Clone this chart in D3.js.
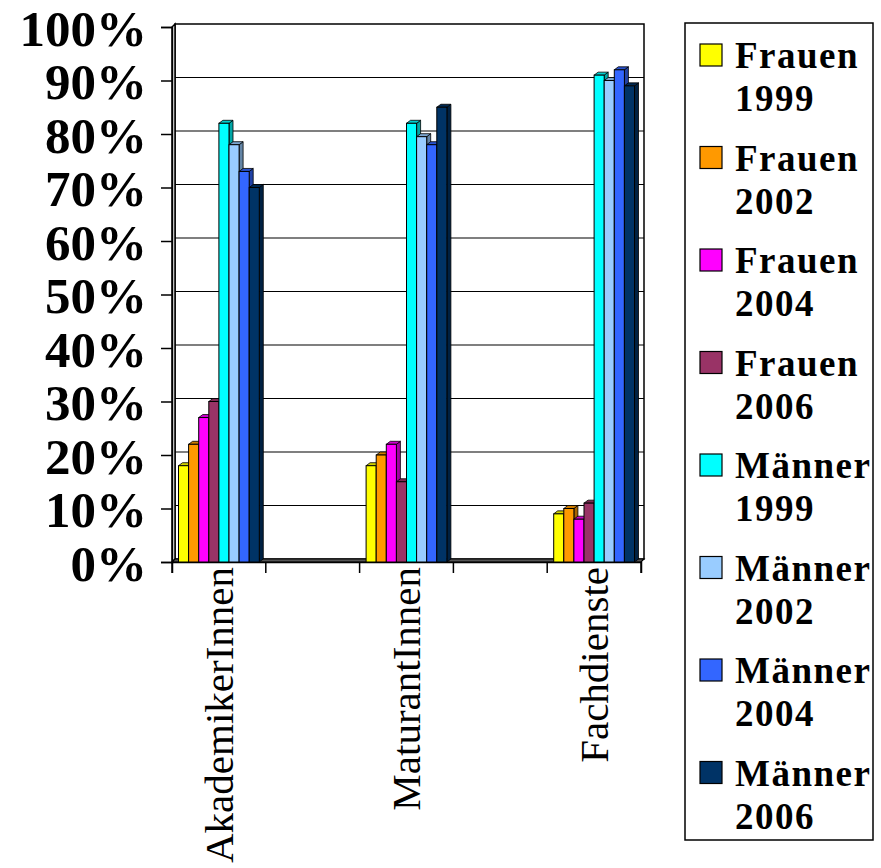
<!DOCTYPE html>
<html>
<head>
<meta charset="utf-8">
<script src="https://cdn.jsdelivr.net/npm/d3@7"></script>
<style>
  html, body { margin: 0; padding: 0; background: #fff; }
  svg { display: block; }
</style>
</head>
<body>
<div id="chart"></div>
<script>
// ---- Data ----
const categories = ["AkademikerInnen", "", "MaturantInnen", "", "Fachdienste"];
const seriesNames = ["Frauen 1999", "Frauen 2002", "Frauen 2004", "Frauen 2006",
                     "Männer 1999", "Männer 2002", "Männer 2004", "Männer 2006"];
const frauen1999 = [18, null, 18, null, 9];
const frauen2002 = [22, null, 20, null, 10];
const frauen2004 = [27, null, 22, null, 8];
const frauen2006 = [30, null, 15, null, 11];
const maenner1999 = [82, null, 82, null, 91];
const maenner2002 = [78, null, 79.5, null, 90];
const maenner2004 = [73, null, 78, null, 92];
const maenner2006 = [70, null, 85, null, 89];
const seriesColors = ["#FFFF00", "#FF9900", "#FF00FF", "#993366",
                      "#00FFFF", "#99CCFF", "#3366FF", "#003366"];
const yTicks = [0, 10, 20, 30, 40, 50, 60, 70, 80, 90, 100];

const seriesValues = [frauen1999, frauen2002, frauen2004, frauen2006,
                      maenner1999, maenner2002, maenner2004, maenner2006];

// ---- Layout ----
const W = 881, H = 868;
const mLeft = 172, mRight = 641, mTop = 27, mBottom = 562;
const depthX = 3, depthY = -3;   // back wall offset
const barDX = 4, barDY = -3;     // bar 3D depth

const svg = d3.select("#chart").append("svg").attr("width", W).attr("height", H);

const x0 = d3.scaleBand().domain(d3.range(categories.length)).range([mLeft, mRight]).paddingInner(0).paddingOuter(0);
const bw = x0.bandwidth();
const x1 = d3.scaleBand().domain(d3.range(seriesNames.length)).range([6.5, bw - 6.5]).padding(0);
const y = d3.scaleLinear().domain([0, 100]).range([mBottom, mTop]);

const serif = "'Liberation Serif', 'Times New Roman', serif";

// back wall
const g = svg.append("g");
g.append("rect")
  .attr("x", mLeft + depthX).attr("y", y(100) + depthY)
  .attr("width", mRight - mLeft).attr("height", y(0) - y(100))
  .attr("fill", "#fff").attr("stroke", "#000").attr("stroke-width", 1.5);

// gridlines on the back wall
g.selectAll("line.grid").data(yTicks.filter(d => d > 0 && d < 100)).enter().append("line")
  .attr("x1", mLeft + depthX).attr("x2", mRight + depthX)
  .attr("y1", d => y(d) + depthY).attr("y2", d => y(d) + depthY)
  .attr("stroke", "#000").attr("stroke-width", 1.2);

// left wall (thin side)
g.append("path")
  .attr("d", `M${mLeft},${y(0)} L${mLeft},${y(100)} L${mLeft + depthX},${y(100) + depthY} L${mLeft + depthX},${y(0) + depthY} Z`)
  .attr("fill", "#fff").attr("stroke", "#000").attr("stroke-width", 1.5);

// floor
g.append("path")
  .attr("d", `M${mLeft},${y(0)} L${mRight},${y(0)} L${mRight + depthX},${y(0) + depthY} L${mLeft + depthX},${y(0) + depthY} Z`)
  .attr("fill", "#555").attr("stroke", "#000").attr("stroke-width", 1.2);

// y axis (front)
const yAxis = d3.axisLeft(y).tickValues(yTicks).tickSize(11).tickFormat(d => d + "%");
const yg = svg.append("g").attr("transform", `translate(${mLeft},0)`).call(yAxis);
yg.select(".domain").attr("stroke", "#000").attr("stroke-width", 1.5);
yg.selectAll(".tick line").attr("stroke", "#000").attr("stroke-width", 1.5);
yg.selectAll(".tick text")
  .attr("x", -25).attr("dy", "0.36em")
  .attr("font-family", serif).attr("font-weight", "bold").attr("font-size", 51)
  .attr("fill", "#000");

// x axis (front)
const xAxis = d3.axisBottom(x0).tickSize(11).tickFormat(i => categories[i]);
const xg = svg.append("g").attr("transform", `translate(0,${mBottom})`).call(xAxis);
xg.select(".domain").attr("stroke", "#000").attr("stroke-width", 1.5);
xg.selectAll(".tick line").remove();
xg.selectAll("line.bt").data(d3.range(categories.length + 1)).enter().append("line")
  .attr("x1", i => mLeft + i * bw).attr("x2", i => mLeft + i * bw)
  .attr("y1", 0).attr("y2", 11)
  .attr("stroke", "#000").attr("stroke-width", 1.5);
xg.selectAll(".tick text")
  .attr("transform", "rotate(-90)")
  .attr("x", -5).attr("y", 0).attr("dy", "0.34em")
  .attr("text-anchor", "end")
  .attr("font-family", serif).attr("font-weight", "normal").attr("font-size", 41)
  .attr("fill", "#000");

// bars
const bars = [];
seriesValues.forEach((vals, s) => {
  vals.forEach((v, c) => {
    if (v !== null && v !== undefined) bars.push({ s, c, v });
  });
});
const barG = svg.append("g");
const bar = barG.selectAll("g.bar").data(bars).enter().append("g").attr("class", "bar");
bar.each(function (d) {
  const gx = x0(d.c) + x1(d.s);
  const w = x1.bandwidth();
  const yt = y(d.v), yb = y(0);
  const col = d3.color(seriesColors[d.s]);
  const sel = d3.select(this);
  sel.append("path")
    .attr("d", `M${gx + w},${yb} L${gx + w},${yt} L${gx + w + barDX},${yt + barDY} L${gx + w + barDX},${yb + barDY} Z`)
    .attr("fill", col.darker(1.2)).attr("stroke", "#000").attr("stroke-width", 0.8);
  sel.append("path")
    .attr("d", `M${gx},${yt} L${gx + barDX},${yt + barDY} L${gx + w + barDX},${yt + barDY} L${gx + w},${yt} Z`)
    .attr("fill", col.darker(0.6)).attr("stroke", "#000").attr("stroke-width", 0.8);
  sel.append("rect")
    .attr("x", gx).attr("y", yt).attr("width", w).attr("height", yb - yt)
    .attr("fill", col).attr("stroke", "#000").attr("stroke-width", 1);
});

// legend
const lg = svg.append("g");
lg.append("rect").attr("x", 685).attr("y", 23).attr("width", 188).attr("height", 817)
  .attr("fill", "#fff").attr("stroke", "#000").attr("stroke-width", 1.5);
const item = lg.selectAll("g.item").data(seriesNames).enter().append("g")
  .attr("transform", (d, i) => `translate(0,${55 + i * 102.5})`);
item.append("rect").attr("x", 700).attr("y", -11).attr("width", 22).attr("height", 22)
  .attr("fill", (d, i) => seriesColors[i]).attr("stroke", "#000").attr("stroke-width", 1.2);
item.append("text").attr("x", 735).attr("y", 13)
  .attr("font-family", serif).attr("font-weight", "bold").attr("font-size", 37)
  .attr("letter-spacing", "1.5px").attr("fill", "#000")
  .text(d => d.split(" ")[0]);
item.append("text").attr("x", 735).attr("y", 56)
  .attr("font-family", serif).attr("font-weight", "bold").attr("font-size", 37)
  .attr("letter-spacing", "1.5px").attr("fill", "#000")
  .text(d => d.split(" ")[1]);
</script>
</body>
</html>
